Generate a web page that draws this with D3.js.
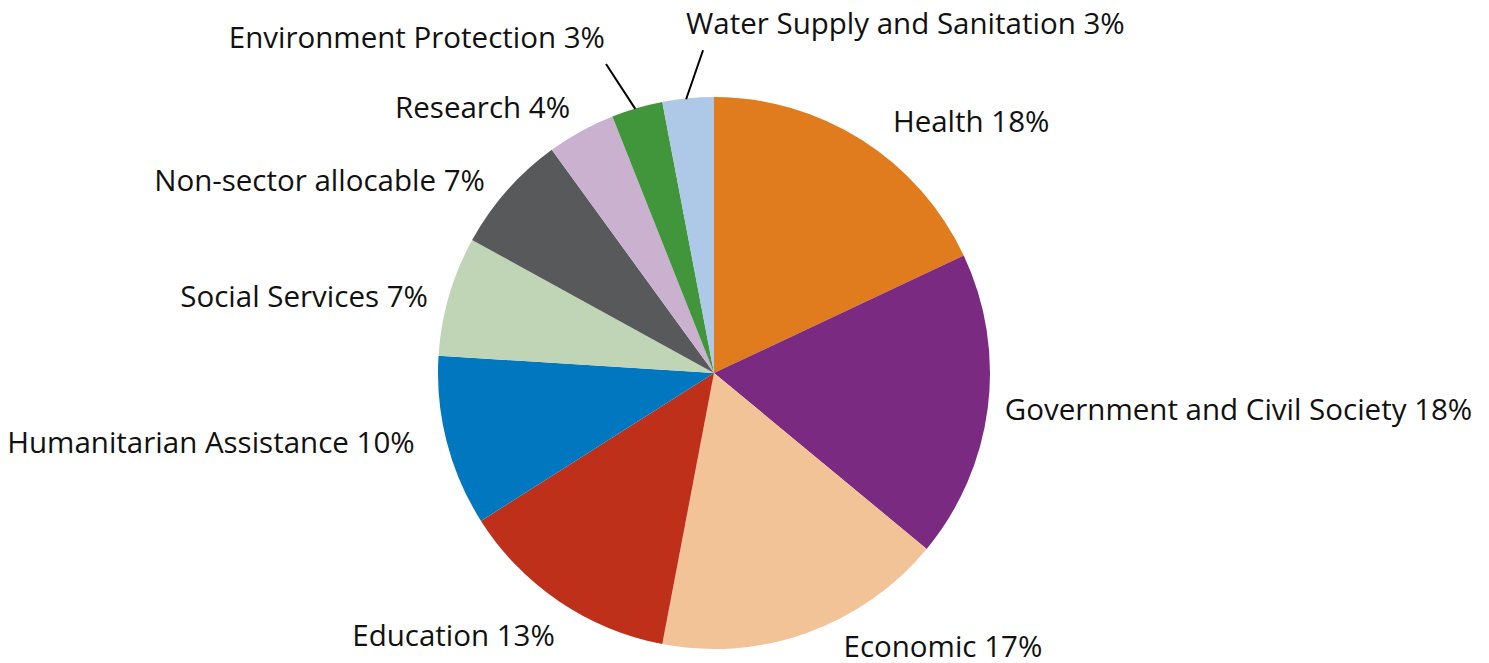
<!DOCTYPE html>
<html><head>
<meta charset="utf-8">
<script src="https://d3js.org/d3.v7.min.js"></script>
<style>
  body { margin: 0; background: #fff; }
  .label { font-family: "Open Sans", "Noto Sans", sans-serif; font-size: 29.5px; fill: #111; }
  .leader { stroke: #000; stroke-width: 2; }
</style>
</head>
<body>
<svg id="pie" width="1489" height="663"></svg>
<script>
  // sector shares, clockwise from 12 o'clock
  const sectors = ["Health", "Government and Civil Society", "Economic", "Education",
                   "Humanitarian Assistance", "Social Services", "Non-sector allocable",
                   "Research", "Environment Protection", "Water Supply and Sanitation"];
  const shares = [18, 18, 17, 13, 10, 7, 7, 4, 3, 3];
  const colors = ["#e07b1e", "#7b2a82", "#f3c398", "#be3019", "#0077be",
                  "#bfd5b6", "#58595b", "#c9b1cf", "#41963b", "#aec8e8"];

  const svg = d3.select("svg#pie");
  const cx = 714, cy = 373, radius = 276;

  // label nudges from the rim point at each slice's middle angle
  const nudge = [[31, -8], [17, 12], [36, 24], [-4, 45], [-32, 11],
                 [-21, 11], [-22, 1], [-11, -13], [-32, -60], [-2, -64]];
  const leaders = [false, false, false, false, false, false, false, false, true, true];

  const data = sectors.map((s, i) => ({ sector: s, share: shares[i], color: colors[i] }));

  const pie = d3.pie().sort(null).value(d => d.share);
  const arc = d3.arc().innerRadius(0).outerRadius(radius);
  const arcs = pie(data);

  const chart = svg.append("g").attr("transform", "translate(" + cx + "," + cy + ")");

  chart.selectAll("path.slice")
    .data(arcs)
    .join("path")
    .attr("class", "slice")
    .attr("d", arc)
    .attr("fill", d => d.data.color);

  function rimPoint(d, r) {
    const a = (d.startAngle + d.endAngle) / 2;
    return [r * Math.sin(a), -r * Math.cos(a)];
  }

  arcs.forEach((d, i) => {
    const p = rimPoint(d, radius);
    const lx = p[0] + nudge[i][0];
    const ly = p[1] + nudge[i][1];
    const mid = (d.startAngle + d.endAngle) / 2;
    const right = leaders[i] ? (i === 9) : (mid < Math.PI);

    chart.append("text")
      .attr("class", "label")
      .attr("x", lx)
      .attr("y", ly)
      .attr("text-anchor", right ? "start" : "end")
      .text(d.data.sector + " " + d.data.share + "%");

    if (leaders[i]) {
      const q = rimPoint(d, radius - 1);
      chart.append("line")
        .attr("class", "leader")
        .attr("x1", q[0] - 2).attr("y1", q[1])
        .attr("x2", i === 9 ? lx + 17 : lx + 1)
        .attr("y2", ly + 16);
    }
  });
</script>
</body>
</html>
